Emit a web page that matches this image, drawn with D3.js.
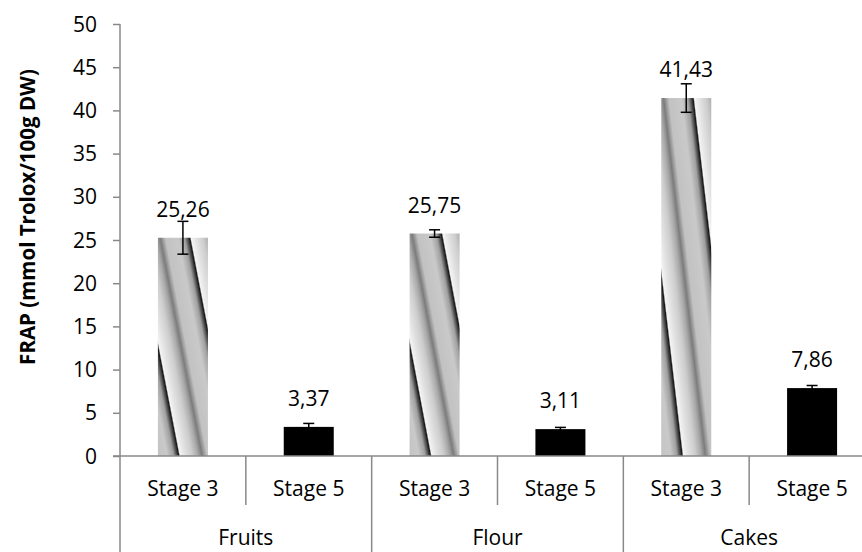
<!DOCTYPE html>
<html><head><meta charset="utf-8">
<script src="https://cdn.jsdelivr.net/npm/d3@7"></script>
<style>
html,body{margin:0;padding:0;background:#fff;}
svg text{font-family:"Open Sans","Noto Sans",sans-serif;fill:#000;}
</style></head>
<body>
<svg id="chart" width="862" height="552"></svg>
<script>
const categories = ["Fruits", "Flour", "Cakes"];
const stages = ["Stage 3", "Stage 5"];
const stage3Values = [25.26, 25.75, 41.43];
const stage5Values = [3.37, 3.11, 7.86];
const stage3Errors = [1.9, 0.43, 1.65];
const stage5Errors = [0.4, 0.2, 0.3];
const yTicks = [0, 5, 10, 15, 20, 25, 30, 35, 40, 45, 50];
const yTitle = "FRAP (mmol Trolox/100g DW)";

(function () {
const svg = d3.select("#chart");
const axisColor = "#898989";
const pLeft = 120, pRight = 875, pTop = 24, pBottom = 456;

const defs = svg.append("defs");
const grad = defs.append("linearGradient")
  .attr("id", "tex")
  .attr("gradientUnits", "objectBoundingBox")
  .attr("spreadMethod", "repeat")
  .attr("x1", 0).attr("y1", 0.5)
  .attr("x2", 0.62).attr("y2", -0.02);
[[0, "#151515"], [0.025, "#f4f4f4"], [0.12, "#e2e2e2"], [0.25, "#cdcdcd"],
 [0.36, "#a9a9a9"], [0.44, "#7c7c7c"], [0.54, "#c2c2c2"], [0.78, "#c9c9c9"],
 [0.9, "#a0a0a0"], [0.965, "#474747"], [1, "#151515"]]
  .forEach(([o, c]) => grad.append("stop").attr("offset", o).attr("stop-color", c));

const x0 = d3.scaleBand().domain(categories).range([pLeft, pRight]).padding(0);
const x1 = d3.scaleBand().domain(stages).range([0, x0.bandwidth()])
  .paddingInner(0.6026).paddingOuter(0.3013);
const y = d3.scaleLinear().domain([0, 50]).range([pBottom, pTop]);

const rows = [];
categories.forEach((c, i) => {
  rows.push({cat: c, stage: stages[0], v: stage3Values[i], e: stage3Errors[i]});
  rows.push({cat: c, stage: stages[1], v: stage5Values[i], e: stage5Errors[i]});
});

// y axis
const yAxis = d3.axisLeft(y).tickValues(yTicks).tickSize(7).tickPadding(16).tickFormat(d3.format("d"));
const gy = svg.append("g").attr("transform", `translate(${pLeft},0)`).call(yAxis);
gy.select(".domain").remove();
gy.selectAll(".tick line").attr("stroke", axisColor).attr("stroke-width", 1.5);
gy.selectAll(".tick text").attr("font-size", 21).attr("fill", "#000").attr("dy", "0.34em")
  .attr("font-family", "Open Sans, Noto Sans, sans-serif");
svg.append("line").attr("x1", pLeft).attr("x2", pLeft).attr("y1", y(50)).attr("y2", 552)
  .attr("stroke", axisColor).attr("stroke-width", 1.5);

// bars
const g = svg.append("g");
g.selectAll("rect.bar").data(rows).join("rect")
  .attr("x", d => x0(d.cat) + x1(d.stage))
  .attr("y", d => y(d.v))
  .attr("width", x1.bandwidth())
  .attr("height", d => y(0) - y(d.v))
  .attr("fill", d => d.stage === stages[0] ? "url(#tex)" : "#000");

// x axis line
svg.append("line").attr("x1", pLeft - 7).attr("x2", 862).attr("y1", pBottom).attr("y2", pBottom)
  .attr("stroke", axisColor).attr("stroke-width", 1.5);

// error bars
const eb = svg.append("g").attr("stroke", "#000").attr("stroke-width", 1.5);
rows.forEach(d => {
  const cx = x0(d.cat) + x1(d.stage) + x1.bandwidth() / 2;
  eb.append("line").attr("x1", cx).attr("x2", cx).attr("y1", y(d.v + d.e)).attr("y2", y(d.v - d.e));
  eb.append("line").attr("x1", cx - 5.5).attr("x2", cx + 5.5).attr("y1", y(d.v + d.e)).attr("y2", y(d.v + d.e));
  eb.append("line").attr("x1", cx - 5.5).attr("x2", cx + 5.5).attr("y1", y(d.v - d.e)).attr("y2", y(d.v - d.e));
});

// value labels
const fmt = v => d3.format(".2f")(v).replace(".", ",");
svg.append("g").selectAll("text").data(rows).join("text")
  .attr("x", d => x0(d.cat) + x1(d.stage) + x1.bandwidth() / 2)
  .attr("y", d => y(d.v) - 21)
  .attr("text-anchor", "middle").attr("font-size", 21)
  .text(d => fmt(d.v));

// multi-level category axis
const cat = svg.append("g");
categories.forEach(c => {
  stages.forEach((s, si) => {
    const sx = x0(c) + x1.step() * si;
    cat.append("text").attr("x", sx + x1.step() / 2).attr("y", 496)
      .attr("text-anchor", "middle").attr("font-size", 21).text(s);
  });
  cat.append("line").attr("x1", x0(c) + x1.step()).attr("x2", x0(c) + x1.step())
    .attr("y1", pBottom).attr("y2", 505).attr("stroke", axisColor).attr("stroke-width", 1.5);
  cat.append("line").attr("x1", x0(c) + x0.bandwidth()).attr("x2", x0(c) + x0.bandwidth())
    .attr("y1", pBottom).attr("y2", 552).attr("stroke", axisColor).attr("stroke-width", 1.5);
  cat.append("text").attr("x", x0(c) + x0.bandwidth() / 2).attr("y", 545)
    .attr("text-anchor", "middle").attr("font-size", 21).text(c);
});

// y title
svg.append("text")
  .attr("transform", `translate(35,${(pTop + 410) / 2}) rotate(-90)`)
  .attr("text-anchor", "middle").attr("font-size", 20.5).attr("font-weight", "bold")
  .text(yTitle);
})();
</script>
</body></html>
